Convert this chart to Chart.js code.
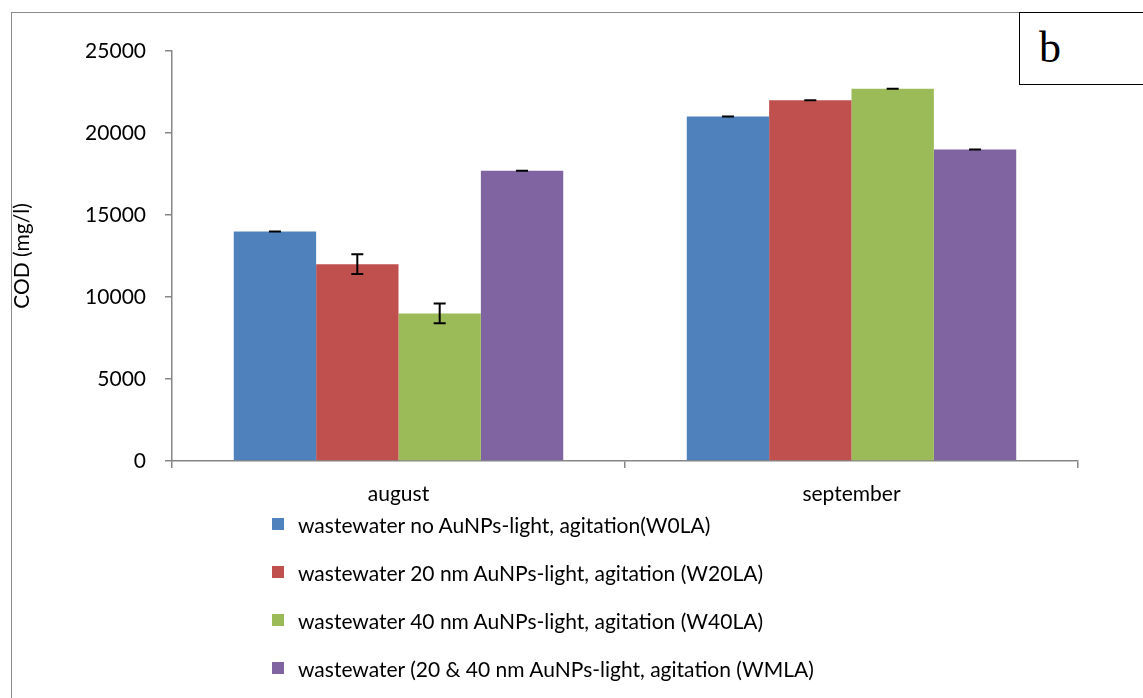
<!DOCTYPE html>
<html>
<head>
<meta charset="utf-8">
<script src="https://cdn.jsdelivr.net/npm/chart.js@4.4.0/dist/chart.umd.min.js"></script>
<style>
  body { margin: 0; background: #fff; }
  #wrap { position: relative; width: 1143px; height: 698px; overflow: hidden; }
  #frame { position: absolute; left: 11px; top: 12px; width: 1200px; height: 760px; border: 1.5px solid #8c8c8c; }
  #tag { position: absolute; left: 1019px; top: 12px; width: 200px; height: 71px; border: 1.5px solid #000; background: #fff;
         font-family: "Liberation Serif", serif; font-size: 44px; }
  #tag span { position: absolute; left: 19px; top: 9px; }
  #legend { position: absolute; left: 272px; top: 500px; font-family: Lato, "Open Sans", sans-serif; font-size: 21px; color: #000; }
  .item { height: 48px; display: flex; align-items: center; }
  .sw { width: 12px; height: 12px; margin-right: 14px; }
  canvas { position: absolute; left: 0; top: 0; }
</style>
</head>
<body>
<div id="wrap">
  <div id="frame"></div>
  <canvas id="chart" width="1143" height="698"></canvas>
  <div id="tag"><span>b</span></div>
  <div id="legend"></div>
</div>
<script>
// data
const months = ["august", "september"];
const seriesNames = [
  "wastewater no AuNPs-light, agitation(W0LA)",
  "wastewater 20 nm AuNPs-light, agitation (W20LA)",
  "wastewater 40 nm AuNPs-light, agitation (W40LA)",
  "wastewater (20 & 40 nm AuNPs-light, agitation (WMLA)"
];
const w0la = [14000, 21000];
const w20la = [12000, 22000];
const w40la = [9000, 22700];
const wmla = [17700, 19000];
const w0laErr = [0, 0];
const w20laErr = [600, 0];
const w40laErr = [600, 0];
const wmlaErr = [0, 0];
const colors = ["#4F81BD", "#C0504D", "#9BBB59", "#8064A2"];

const values = [w0la, w20la, w40la, wmla];
const errs = [w0laErr, w20laErr, w40laErr, wmlaErr];

// error bars on top of the bars
const errorBars = {
  id: "errorBars",
  afterDatasetsDraw(chart) {
    const ctx = chart.ctx;
    const y = chart.scales.y;
    ctx.save();
    ctx.strokeStyle = "#000";
    ctx.lineWidth = 2;
    chart.data.datasets.forEach((ds, i) => {
      chart.getDatasetMeta(i).data.forEach((bar, j) => {
        const v = ds.data[j];
        const e = errs[i][j];
        const top = y.getPixelForValue(v + e);
        const bot = y.getPixelForValue(v - e);
        ctx.beginPath();
        ctx.moveTo(bar.x, top);
        ctx.lineTo(bar.x, bot);
        ctx.moveTo(bar.x - 6, top);
        ctx.lineTo(bar.x + 6, top);
        ctx.moveTo(bar.x - 6, bot);
        ctx.lineTo(bar.x + 6, bot);
        ctx.stroke();
      });
    });
    ctx.restore();
  }
};

const font = { family: "Lato, 'Open Sans', sans-serif", size: 21 };

new Chart(document.getElementById("chart"), {
  type: "bar",
  data: {
    labels: months,
    datasets: values.map((d, i) => ({
      label: seriesNames[i],
      data: d,
      backgroundColor: colors[i],
      borderWidth: 0,
      categoryPercentage: 4 / 5.5,
      barPercentage: 1
    }))
  },
  options: {
    responsive: false,
    animation: false,
    layout: { padding: { left: 0, top: 51, right: 65, bottom: 177 } },
    plugins: { legend: { display: false }, tooltip: { enabled: false } },
    scales: {
      x: {
        afterFit: (s) => { s.height = 60; },
        grid: { offset: true, drawOnChartArea: false, color: "#868686", tickLength: 7, lineWidth: 1.5 },
        border: { color: "#868686", width: 1.5 },
        ticks: { color: "#000", font: font, padding: 14 }
      },
      y: {
        min: 0,
        max: 25000,
        afterFit: (s) => { s.width = 172; },
        grid: { drawOnChartArea: false, color: "#868686", tickLength: 7, lineWidth: 1.5 },
        border: { color: "#868686", width: 1.5 },
        ticks: { stepSize: 5000, color: "#000", font: font, padding: 19, callback: (v) => String(v) },
        title: { display: true, text: "COD (mg/l)", color: "#000", font: font, padding: { top: 10, bottom: 0 } }
      }
    }
  },
  plugins: [errorBars]
});

// legend, one entry per line
const legend = document.getElementById("legend");
seriesNames.forEach((name, i) => {
  const item = document.createElement("div");
  item.className = "item";
  item.innerHTML = `<div class="sw" style="background:${colors[i]}"></div><span></span>`;
  item.querySelector("span").textContent = name;
  legend.appendChild(item);
});
</script>
</body>
</html>
